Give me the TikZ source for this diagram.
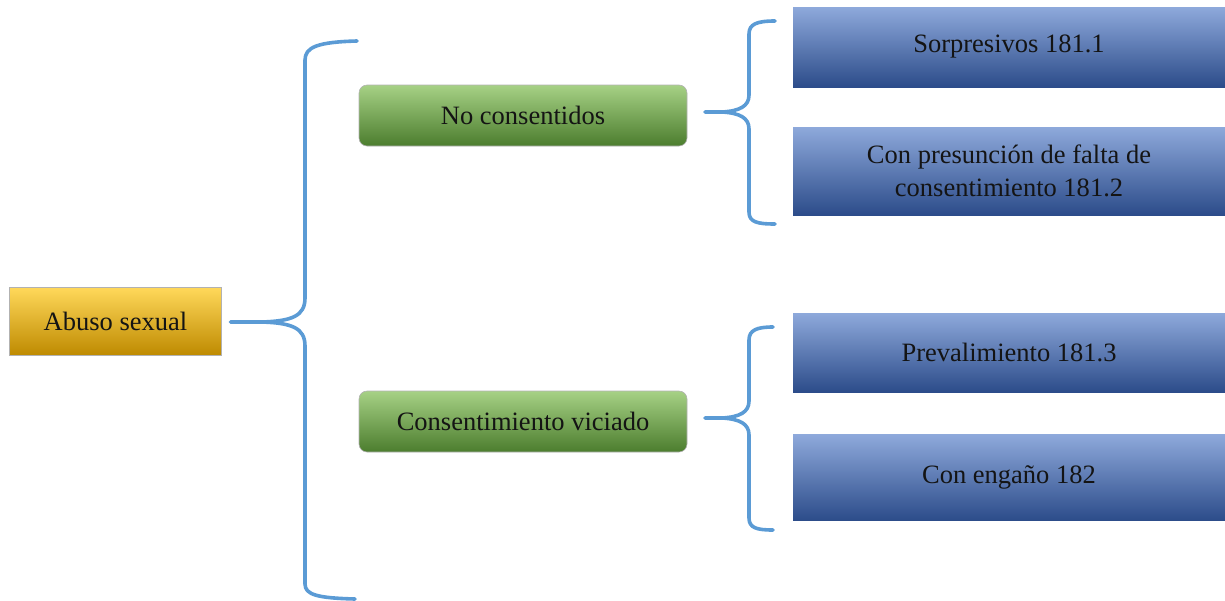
\documentclass[tikz,border=0pt]{standalone}
\usepackage{fontspec}
\setmainfont{Liberation Serif}
\usetikzlibrary{calc}
\definecolor{bracecol}{HTML}{5B9BD5}
\definecolor{txtcol}{HTML}{141414}
\tikzset{
  base/.style={inner sep=0pt, outer sep=0pt, align=center, text=txtcol,
    font=\fontsize{26.5}{33}\selectfont, draw=black!30, line width=0.6pt},
  yellowbox/.style={base, top color={rgb,255:red,255;green,216;blue,90}, middle color={rgb,255:red,255;green,192;blue,0},
    bottom color={rgb,255:red,190;green,138;blue,0}},
  greenbox/.style={base, rounded corners=8pt, top color={rgb,255:red,166;green,209;blue,133},
    middle color={rgb,255:red,118;green,178;blue,75}, bottom color={rgb,255:red,76;green,125;blue,46}},
  bluebox/.style={base, draw=none, top color={rgb,255:red,142;green,169;blue,219},
    middle color={rgb,255:red,74;green,114;blue,196}, bottom color={rgb,255:red,44;green,76;blue,138}},
  brace/.style={draw=bracecol, line width=3.6pt, line cap=round, line join=round}
}
\begin{document}
\begin{tikzpicture}[x=1pt,y=-1pt]
\useasboundingbox (0,0) rectangle (1225,600);

\node[yellowbox, minimum width=212pt, minimum height=68pt] (abuso) at (115.5,321.5) {Abuso sexual};

\node[greenbox, minimum width=328pt, minimum height=61pt] (nocons) at (523,115.5) {No consentidos};
\node[greenbox, minimum width=328pt, minimum height=61pt] (vic) at (523,421.5) {Consentimiento viciado};

\node[bluebox, minimum width=432pt, minimum height=80pt] (sorp) at (1009,47) {Sorpresivos 181.1};
\node[bluebox, minimum width=432pt, minimum height=88pt] (pres) at (1009,171) {Con presunción de falta de\\consentimiento 181.2};
\node[bluebox, minimum width=432pt, minimum height=79pt] (prev) at (1009,352.5) {Prevalimiento 181.3};
\node[bluebox, minimum width=432pt, minimum height=86pt] (eng) at (1009,477.5) {Con engaño 182};

% big brace
\coordinate (t0) at ($(abuso.east)+(9,0.5)$);
\draw[brace] (357,41) .. controls (318,42) and (305,47) .. (305,60) -- (305,298)
  .. controls (305,316) and (292,321) .. (262,322) -- (t0);
\draw[brace] (262,322) .. controls (292,323) and (305,328) .. (305,346) -- (305,584)
  .. controls (305,595) and (318,598) .. (355,599);

% brace 1
\coordinate (t1) at ($(nocons.east)+(18,-3.5)$);
\draw[brace] (775,21) .. controls (757,21) and (749,24) .. (749,34) -- (749,95)
  .. controls (749,106) and (740,111) .. (722,112) -- (t1);
\draw[brace] (722,112) .. controls (740,113) and (749,118) .. (749,129) -- (749,212)
  .. controls (749,222) and (757,224) .. (775,224);

% brace 2
\coordinate (t2) at ($(vic.east)+(18,-3.5)$);
\draw[brace] (773,327) .. controls (757,327) and (749,330) .. (749,340) -- (749,401)
  .. controls (749,412) and (740,417) .. (722,418) -- (t2);
\draw[brace] (722,418) .. controls (740,419) and (749,424) .. (749,435) -- (749,518)
  .. controls (749,528) and (757,530) .. (773,530);
\end{tikzpicture}
\end{document}
